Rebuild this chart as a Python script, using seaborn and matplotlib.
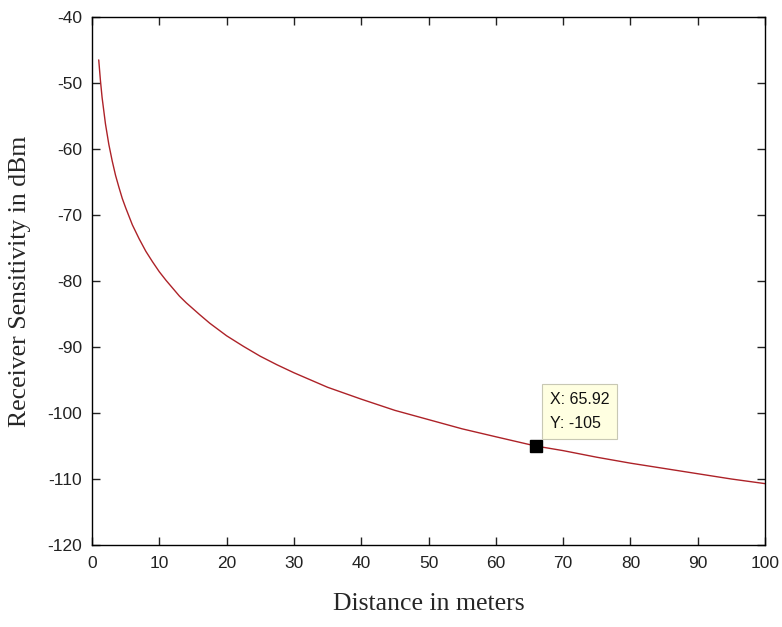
import matplotlib
matplotlib.use("Agg")
import matplotlib.pyplot as plt
import seaborn as sns
import pandas as pd

# Receiver sensitivity readings versus link distance
distance_m = [1, 1.25, 1.5, 2, 2.5, 3, 3.5, 4, 4.5, 5, 6, 7, 8, 9, 10, 11, 12, 13,
              14, 15, 16, 17.5, 20, 22.5, 25, 27.5, 30, 32.5, 35, 40, 45,
              50, 55, 60, 65.92, 70, 75, 80, 85, 90, 95, 100]
sensitivity_dbm = [-46.5, -49.6, -52.2, -56.2, -59.3, -61.8, -64.0, -65.8, -67.5,
                   -68.9, -71.5, -73.6, -75.5, -77.1, -78.6, -79.9, -81.1, -82.3,
                   -83.3, -84.2, -85.1, -86.4, -88.3, -89.9, -91.4, -92.7, -93.9,
                   -95.0, -96.1, -97.9, -99.6, -101.0, -102.4, -103.6, -105.0,
                   -105.7, -106.7, -107.6, -108.4, -109.2, -110.0, -110.7]

# Highlighted data point
tip_x = 65.92
tip_y = -105

x_ticks = [0, 10, 20, 30, 40, 50, 60, 70, 80, 90, 100]
y_ticks = [-120, -110, -100, -90, -80, -70, -60, -50, -40]

df = pd.DataFrame({"distance": distance_m, "sensitivity": sensitivity_dbm})

sns.set_theme(style="white")
plt.rcParams["font.family"] = ["Liberation Sans", "DejaVu Sans"]

fig = plt.figure(figsize=(7.82, 6.27), dpi=100)
ax = fig.add_axes([92 / 782, 1 - 545 / 627, (765 - 92) / 782, (545 - 17) / 627])

sns.lineplot(data=df, x="distance", y="sensitivity", ax=ax,
             color="#ad2228", linewidth=1.0, estimator=None, sort=True)

ax.plot([tip_x], [tip_y], marker="s", markersize=9, color="black",
        linestyle="none", zorder=5)
ax.annotate(f"X: {tip_x}\nY: {tip_y}", xy=(tip_x, tip_y),
            xytext=(14, 15), textcoords="offset pixels",
            ha="left", va="bottom", fontsize=11.5, linespacing=1.75,
            family=["Liberation Sans", "DejaVu Sans"], color="#111111",
            bbox=dict(boxstyle="square,pad=0.48", facecolor="#ffffe1",
                      edgecolor="#c8c8b4", linewidth=0.8),
            zorder=6)

ax.set_xlim(0, 100)
ax.set_ylim(-120, -40)
ax.set_xticks(x_ticks)
ax.set_yticks(y_ticks)
ax.set_xticklabels([str(v) for v in x_ticks])
ax.set_yticklabels([str(v) for v in y_ticks])

for side in ["left", "right", "top", "bottom"]:
    ax.spines[side].set_visible(True)
    ax.spines[side].set_color("black")
    ax.spines[side].set_linewidth(1.0)

ax.tick_params(axis="both", which="major", direction="in", length=6, width=1.0,
               top=True, right=True, bottom=True, left=True,
               labelsize=12.5, colors="#222222", pad=8)
ax.tick_params(axis="y", pad=7)

serif = ["Liberation Serif", "DejaVu Serif"]
ax.set_xlabel("Distance in meters", fontsize=18.5, family=serif, labelpad=16)
ax.set_ylabel("Receiver Sensitivity in dBm", fontsize=18.5, family=serif, labelpad=12)

fig.savefig("out.png", dpi=100, facecolor="white")
